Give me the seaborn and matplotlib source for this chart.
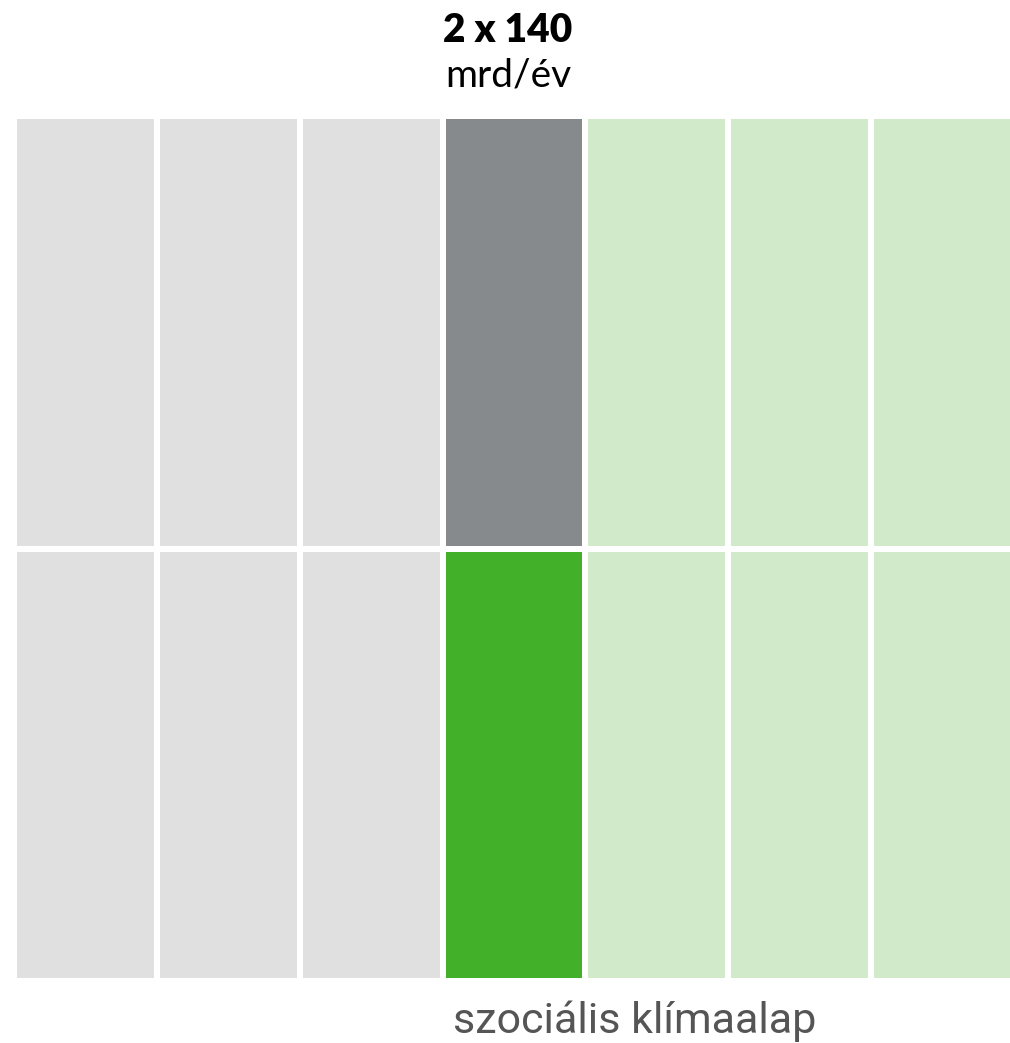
from matplotlib import pyplot as plt
from matplotlib.colors import ListedColormap
import seaborn as sns
import numpy as np

sns.set_style("white")

# cell categories: 0 light gray, 1 dark gray, 2 green, 3 light green
top_row = [0, 0, 0, 1, 3, 3, 3]
bottom_row = [0, 0, 0, 2, 3, 3, 3]
cell_colors = ["#e0e0e0", "#878a8c", "#43b02a", "#d0eaca"]
title_bold = "2 x 140"
title_unit = "mrd/év"
bottom_label = "szociális klímaalap"

grid = np.array([top_row, bottom_row])

fig = plt.figure(figsize=(10.10, 10.43), dpi=100)
W, H = 1010, 1043
ax = fig.add_axes([14 / W, 1 - 981 / H, 1000 / W, 865 / H])
sns.heatmap(grid, ax=ax, cmap=ListedColormap(cell_colors), vmin=-0.5, vmax=3.5,
            cbar=False, linewidths=3, linecolor="white", xticklabels=False, yticklabels=False)

fig.text(508 / W, 1 - 30 / H, title_bold, ha="center", va="center",
         fontsize=28, fontweight="heavy", family="Lato", color="black")
fig.text(508 / W, 1 - 76 / H, title_unit, ha="center", va="center",
         fontsize=28, family="Lato", color="black")
fig.text(635 / W, 1 - 1021 / H, bottom_label, ha="center", va="center",
         fontsize=31, color="#555555", family="Roboto")

fig.savefig("out.png", dpi=100)
